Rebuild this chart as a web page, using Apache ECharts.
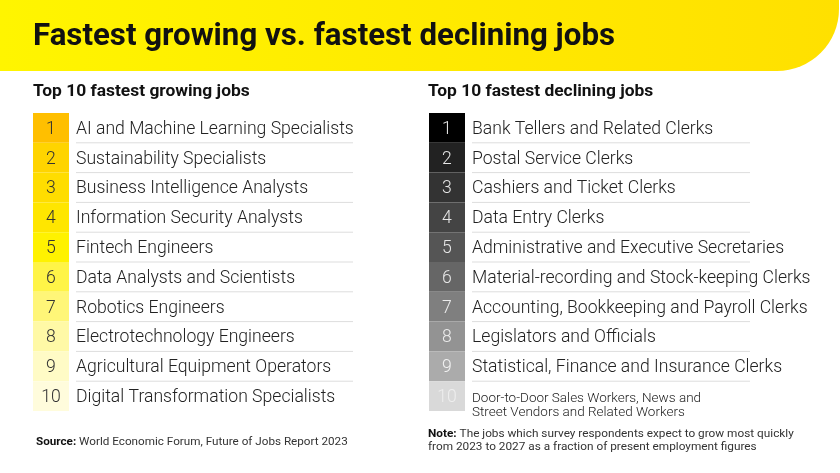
<!DOCTYPE html>
<html><head><meta charset="utf-8">
<script src="https://cdn.jsdelivr.net/npm/echarts@6/dist/echarts.min.js"></script>
<style>html,body{margin:0;padding:0;background:#fff}#c{width:840px;height:473px}</style>
</head><body><div id="c"></div>
<script>
const titleText = 'Fastest growing vs. fastest declining jobs';
const growTitle = 'Top 10 fastest growing jobs';
const declineTitle = 'Top 10 fastest declining jobs';
const ranks = ['1','2','3','4','5','6','7','8','9','10'];
const growJobs = [
  'AI and Machine Learning Specialists',
  'Sustainability Specialists',
  'Business Intelligence Analysts',
  'Information Security Analysts',
  'Fintech Engineers',
  'Data Analysts and Scientists',
  'Robotics Engineers',
  'Electrotechnology Engineers',
  'Agricultural Equipment Operators',
  'Digital Transformation Specialists'
];
const declineJobs = [
  'Bank Tellers and Related Clerks',
  'Postal Service Clerks',
  'Cashiers and Ticket Clerks',
  'Data Entry Clerks',
  'Administrative and Executive Secretaries',
  'Material-recording and Stock-keeping Clerks',
  'Accounting, Bookkeeping and Payroll Clerks',
  'Legislators and Officials',
  'Statistical, Finance and Insurance Clerks',
  'Door-to-Door Sales Workers, News and\nStreet Vendors and Related Workers'
];
const sourceLabel = 'Source:';
const sourceText = ' World Economic Forum, Future of Jobs Report 2023';
const noteLabel = 'Note:';
const noteText = [' The jobs which survey respondents expect to grow most quickly', 'from 2023 to 2027 as a fraction of present employment figures'];

// styles
const growColors = ['#ffbf00','#ffd400','#ffdd00','#ffe600','#fff200','#fff447','#fff678','#fff9a6','#fffbc6','#fffcdc'];
const growNumColors = ['#333','#333','#333','#333','#333','#333','#333','#333','#333','#333'];
const declineColors = ['#000000','#222222','#333333','#444444','#555555','#666666','#7f7f7f','#939393','#ababab','#d9d9d9'];
const declineNumColors = ['#e6e6e6','#e6e6e6','#e6e6e6','#e6e6e6','#e6e6e6','#e6e6e6','#ececec','#eeeeee','#f2f2f2','#eeeeee'];

const FONT = 'Roboto, "Noto Sans", sans-serif';

function measure(text, font) {
  const cv = document.createElement('canvas').getContext('2d');
  cv.font = font;
  return cv.measureText(text).width;
}
const titleFont = 'bold 32px Roboto';
const titleScale = 582 / measure(titleText, titleFont);

function makeRender(jobs, boxColors, numColors, lineLen) {
  return function (params, api) {
    const i = api.value(1);
    const c = api.coord([0, i]);
    const h = api.size([0, 1])[1];
    const x0 = c[0];
    const yTop = c[1] - h / 2;
    const job = jobs[i];
    const multi = job.indexOf('\n') >= 0;
    const children = [
      { type: 'rect', shape: { x: x0, y: yTop, width: 36, height: h }, style: { fill: boxColors[i] } },
      { type: 'text', style: { x: x0 + 18, y: c[1] + 1.5, text: ranks[i], fill: numColors[i], font: '300 17.6px ' + FONT, align: 'center', verticalAlign: 'middle' } },
      { type: 'text', style: { x: x0 + 43, y: multi ? c[1] + 10 : c[1] + 1.5, text: job, fill: '#222', font: multi ? '300 13.5px ' + FONT : '300 17.6px ' + FONT, lineHeight: 14, align: 'left', verticalAlign: 'middle' } }
    ];
    if (i < jobs.length - 1) {
      children.push({ type: 'line', shape: { x1: x0 + 43, y1: yTop + h, x2: x0 + lineLen, y2: yTop + h }, style: { stroke: '#dddddd', lineWidth: 1 } });
    }
    return { type: 'group', children };
  };
}

const chart = echarts.init(document.getElementById('c'), null, { renderer: 'canvas' });
const hiddenX = (g) => ({ type: 'value', gridIndex: g, min: 0, max: 1, show: false });
const catY = (g) => ({ type: 'category', gridIndex: g, data: ranks, inverse: true, show: false });

chart.setOption({
  animation: false,
  backgroundColor: '#ffffff',
  grid: [
    { left: 33, top: 113, width: 320, height: 298 },
    { left: 429, top: 113, width: 321, height: 298 }
  ],
  xAxis: [hiddenX(0), hiddenX(1)],
  yAxis: [catY(0), catY(1)],
  graphic: [
    { type: 'rect', z: -1, shape: { x: 0, y: 0, width: 839, height: 71, r: [0, 0, 62, 0] },
      style: { fill: new echarts.graphic.LinearGradient(0, 0, 1, 0, [{ offset: 0, color: '#fff500' }, { offset: 1, color: '#ffe000' }]) } },
    { type: 'text', x: 33, y: 37, scaleX: titleScale, style: { text: titleText, font: titleFont, fill: '#111', verticalAlign: 'middle' } },
    { type: 'text', x: 33, y: 92, style: { text: growTitle, font: 'bold 17.4px ' + FONT, fill: '#111', verticalAlign: 'middle' } },
    { type: 'text', x: 428, y: 92, style: { text: declineTitle, font: 'bold 17.4px ' + FONT, fill: '#111', verticalAlign: 'middle' } },
    { type: 'text', x: 36, y: 442, style: { text: '{b|' + sourceLabel + '}{n|' + sourceText + '}', verticalAlign: 'middle',
        rich: { b: { font: 'bold 11.7px ' + FONT, fill: '#111' }, n: { font: '11.7px ' + FONT, fill: '#333' } } } },
    { type: 'text', x: 428, y: 434, style: { text: '{b|' + noteLabel + '}{n|' + noteText[0] + '}', verticalAlign: 'middle',
        rich: { b: { font: 'bold 11.8px ' + FONT, fill: '#111' }, n: { font: '11.8px ' + FONT, fill: '#333' } } } },
    { type: 'text', x: 428, y: 447, style: { text: noteText[1], font: '11.8px ' + FONT, fill: '#333', verticalAlign: 'middle' } }
  ],
  series: [
    { type: 'custom', xAxisIndex: 0, yAxisIndex: 0, encode: { x: 0, y: 1 },
      data: growJobs.map((j, i) => [0, i]), renderItem: makeRender(growJobs, growColors, growNumColors, 320) },
    { type: 'custom', xAxisIndex: 1, yAxisIndex: 1, encode: { x: 0, y: 1 },
      data: declineJobs.map((j, i) => [0, i]), renderItem: makeRender(declineJobs, declineColors, declineNumColors, 321) }
  ]
});
</script></body></html>
